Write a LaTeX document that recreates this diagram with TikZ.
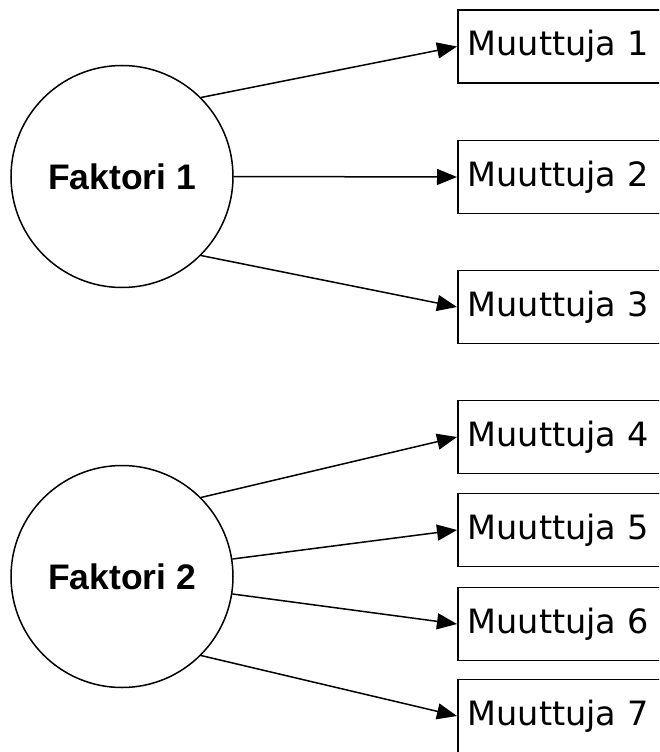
\documentclass[tikz,border=0pt]{standalone}
\usepackage{fontspec}
\setmainfont{DejaVu Sans}
\newfontfamily\labelfont{Liberation Sans}
\usetikzlibrary{arrows.meta}
\tikzset{
  factor/.style={circle, draw, line width=1.5pt, minimum size=222pt, inner sep=0pt,
    font=\labelfont\bfseries\fontsize{35.5}{40}\selectfont},
  varbox/.style={rectangle, draw, line width=1.5pt, anchor=west, minimum height=73pt,
    text width=210pt, inner xsep=10pt, align=left, font=\fontsize{33.5}{38}\selectfont},
  link/.style={line width=1.5pt, -{Triangle[length=20pt,width=16pt]}}
}
\begin{document}
\begin{tikzpicture}[x=1pt,y=-1pt]
\useasboundingbox (0,0) rectangle (659,752);
\clip (0,0) rectangle (659,752);
\node[factor] (f1) at (122,176.5) {Faktori 1};
\node[factor] (f2) at (122,576.5) {Faktori 2};
\node[varbox] (m1) at (457,46.5) {Muuttuja 1};
\node[varbox] (m2) at (457,177) {Muuttuja 2};
\node[varbox] (m3) at (457,307) {Muuttuja 3};
\node[varbox] (m4) at (457,437) {Muuttuja 4};
\node[varbox] (m5) at (457,530) {Muuttuja 5};
\node[varbox] (m6) at (457,624) {Muuttuja 6};
\node[varbox] (m7) at (457,716) {Muuttuja 7};
\draw[link] (f1.45) -- (m1.west);
\draw[link] (f1.0) -- (m2.west);
\draw[link] (f1.-45) -- (m3.west);
\draw[link] (f2.45) -- (m4.west);
\draw[link] (f2.9) -- (m5.west);
\draw[link] (f2.-9) -- (m6.west);
\draw[link] (f2.-45) -- (m7.west);
\end{tikzpicture}
\end{document}
